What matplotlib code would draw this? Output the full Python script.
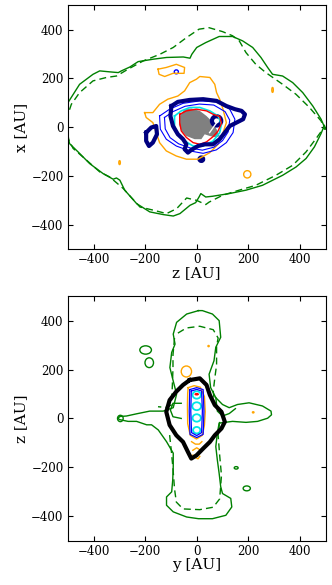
import matplotlib
matplotlib.use("Agg")
import matplotlib.pyplot as plt
from matplotlib.patches import Ellipse

plt.rcParams['font.family'] = ['DejaVu Serif']

# ---------------- top panel (z horizontal, x vertical) ----------------
top_green_solid_z = [-520, -499, -454, -402, -376, -337, -304, -292, -259, -227, -168, -117, -52, -26, -19, 0,
                     35, 87, 139, 178, 217, 249, 275, 294, 333, 372, 411, 450, 482, 499,
                     495, 482, 456, 424, 385, 333, 255, 191, 126, 61, 35, 16, 9, -4,
                     -26, -65, -91, -130, -182, -233, -279, -298, -311, -324, -363, -415, -460, -493, -499, -520]
top_green_solid_x = [101, 101, 176, 217, 231, 227, 224, 231, 247, 269, 279, 286, 288, 283, 299, 327,
                     347, 372, 372, 354, 327, 286, 245, 217, 210, 183, 142, 87, 33, -8,
                     8, -26, -81, -128, -163, -197, -238, -258, -272, -283, -286, -272, -286, -309,
                     -320, -354, -364, -358, -347, -313, -258, -217, -208, -213, -190, -149, -101, -67, -33, -33]

top_green_dash_z = [-520, -499, -486, -454, -402, -350, -311, -266, -207, -143, -91, -39, 9, 48, 100, 139, 165,
                    191, 229, 268, 333, 385, 437, 482, 495, 495, 463, 424, 372, 307, 229, 152, 100, 48, 35,
                    0, -39, -78, -117, -168, -220, -285, -337, -376, -427, -479, -499, -520]
top_green_dash_x = [40, 53, 94, 142, 190, 204, 210, 238, 272, 299, 327, 368, 402, 408, 392, 375, 354,
                    306, 258, 224, 176, 135, 81, 26, -8, 1, -46, -101, -156, -197, -238, -262, -279, -307, -317,
                    -300, -290, -334, -354, -340, -327, -251, -204, -183, -135, -87, -46, -40]

top_orange_z = [-202, -170, -144, -112, -73, -47, -27, -1, 12, 51, 70, 77, 89, 102, 115, 102, 83, 51, 5,
                -40, -79, -118, -144, -157, -170, -196, -202]
top_orange_x = [60, 60, 94, 115, 128, 149, 183, 197, 208, 204, 176, 142, 115, 74, 19, -22, -70, -104, -131,
                -131, -118, -97, -63, -22, 19, 40, 60]

top_orange2_z = [-150, -118, -79, -47, -49, -92, -124, -146, -150]
top_orange2_x = [238, 245, 258, 245, 221, 221, 208, 217, 238]

top_blue1_z = [-144, -105, -53, 12, 76, 128, 148, 141, 115, 76, 25, -27, -79, -118, -141, -144]
top_blue1_x = [46, 74, 98, 108, 104, 74, 33, -22, -63, -93, -107, -97, -77, -49, -8, 46]
top_blue2_z = [-125, -92, -45, 10, 66, 110, 128, 122, 100, 66, 22, -25, -70, -103, -122, -125]
top_blue2_x = [40, 64, 86, 95, 91, 64, 29, -19, -55, -82, -94, -85, -68, -43, -7, 40]

top_cyan_z = [-86, -60, -27, 12, 51, 83, 96, 89, 64, 25, -14, -47, -73, -86, -86]
top_cyan_x = [46, 67, 81, 81, 67, 46, 12, -22, -56, -77, -77, -56, -29, 5, 46]

top_red_z = [-66, -40, -1, 38, 64, 89, 96, 83, 64, 38, 12, -14, -40, -60, -66, -66]
top_red_x = [53, 67, 74, 67, 53, 44, 16, -15, -38, -60, -70, -63, -42, -15, 19, 53]

top_gray_z = [-66, -47, -21, 12, 38, 57, 77, 89, 77, 51, 31, 18, -8, -40, -59, -69]
top_gray_x = [46, 74, 77, 67, 46, 26, -8, -36, -42, -36, -29, -49, -49, -36, -15, 12]

top_white_z = [50, 68, 88]
top_white_x = [-22, 5, 35]

top_navy_z = [-98, -73, -27, 25, 77, 115, 148, 174, 187, 180, 154, 128, 109, 89, 63, 31, 5, -21, -34,
              -47, -40, -53, -73, -92, -102, -98]
top_navy_x = [87, 104, 112, 115, 108, 87, 74, 67, 53, 33, 19, 5, -22, -49, -70, -70, -77, -93, -104,
              -90, -70, -49, -29, 5, 46, 87]
top_navy_left_z = [-196, -176, -157, -154, -170, -185, -196, -196]
top_navy_left_x = [-22, -1, 5, -29, -63, -77, -56, -22]

# small closed loops: (center z, center x, width, height)
top_loops_color = ['blue', 'orange', 'orange', 'orange', 'navy', 'navy']
top_loops_cz = [-79, 294, -299, 196, 18, 77]
top_loops_cx = [227, 153, -145, -193, -131, 26]
top_loops_w = [16, 6, 6, 28, 14, 36]
top_loops_h = [16, 20, 16, 30, 14, 38]
top_loops_lw = [1.0, 1.0, 1.0, 1.0, 3.0, 3.0]

# ---------------- bottom panel (y horizontal, z vertical) ----------------
bot_green_solid_y = [7, -39, -78, -91, -84, -97, -104, -91, -78, -91, -130, -182, -233, -272, -298, -306,
                     -298, -266, -233, -194, -175, -149, -117, -91, -91, -93, -97, -117, -117, -91, -39, 7,
                     61, 113, 136, 132, 100, 93, 87, 80, 74, 80, 87, 139, 191, 236, 275, 290, 288, 255, 203,
                     158, 126, 100, 74, 54, 48, 67, 74, 93, 87, 61, 22, 7]
bot_green_solid_z = [441, 427, 393, 345, 304, 270, 208, 153, 99, 44, 30, 30, 19, 10, 8, 0,
                     -5, -12, -12, -26, -26, -47, -95, -142, -197, -252, -300, -321, -355, -382, -403, -410,
                     -410, -396, -362, -327, -307, -279, -225, -170, -115, -60, -19, -12, -16, -12, 1, 15, 30, 51, 64,
                     57, 44, 57, 85, 126, 181, 236, 291, 332, 400, 427, 441, 441]

bot_green_inner_y = [74, 80, 100, 126, 150]
bot_green_inner_z = [85, 30, 10, 20, 40]

bot_green_dash_y = [-73, -40, 12, 64, 83, 77, 77, 70, 64, 70, 89]
bot_green_dash_z = [349, 370, 377, 363, 329, 295, 219, 164, 110, 60, 30]
bot_green_dash2_y = [-86, -92, -92, -95, -98, -120, -150]
bot_green_dash2_z = [329, 260, 205, 120, 55, 45, 48]
bot_green_dash3_y = [-105, -98, -92, -86, -79, -53, 12, 64, 89, 96, 89, 83, 89]
bot_green_dash3_z = [-68, -137, -205, -288, -342, -370, -373, -363, -329, -233, -151, -68, -14]

bot_green_c_y = [-60, -92, -102, -92, -60]
bot_green_c_z = [62, 62, 34, 7, 0]

bot_black_y = [-27, 12, 38, 51, 70, 96, 109, 96, 70, 51, 25, -1, -21, -34, -53, -79, -105, -118, -105, -79, -53, -27]
bot_black_z = [157, 164, 137, 96, 55, 27, -14, -41, -69, -96, -123, -151, -164, -137, -96, -69, -27, 27, 75, 110, 137, 157]

bot_orange_y = [-33, -10, 14, 30, 33, 30, 22, -1, -25, -35, -36, -35, -33]
bot_orange_z = [126, 134, 128, 89, 27, -27, -69, -84, -69, -21, 55, 103, 126]
bot_orange_arc1_y = [-20, -5, 10, 20]
bot_orange_arc1_z = [-95, -105, -105, -95]
bot_orange_arc2_y = [-15, 0, 15]
bot_orange_arc2_z = [-130, -120, -130]
bot_orange_arc3_y = [-15, -5, 5, 12]
bot_orange_arc3_z = [-150, -160, -165, -155]

bot_blue1_y = [-27, 0, 25, 28, 25, 0, -26, -29, -27]
bot_blue1_z = [118, 126, 118, 30, -65, -78, -65, 30, 118]
bot_blue2_y = [-21, 0, 19, 22, 19, 0, -20, -23, -21]
bot_blue2_z = [112, 119, 112, 30, -58, -70, -58, 30, 112]

bot_cyan_cy = [96, 50, 2, -48]
bot_cyan_r = [16, 17, 16, 14]

# small loops (center y, center z, width, height, color)
bot_loops_color = ['green', 'green', 'green', 'green', 'green', 'orange', 'orange', 'orange', 'red']
bot_loops_cy = [-198, -184, -296, 153, 194, -40, 46, 219, 0]
bot_loops_cz = [280, 228, 0, -202, -286, 192, 296, 25, 99]
bot_loops_w = [45, 33, 22, 15, 28, 40, 5, 6, 12]
bot_loops_h = [34, 40, 26, 10, 20, 45, 5, 5, 5]

ticks = [-400, -200, 0, 200, 400]

fig = plt.figure(figsize=(3.32, 5.85), dpi=100)
ax1 = fig.add_axes([0.204, 0.574, 0.777, 0.417])
ax2 = fig.add_axes([0.204, 0.0757, 0.777, 0.418])

green = (0, 0.5, 0)
cyan = (0, 0.9, 0.9)

# top
ax1.fill(top_gray_z, top_gray_x, color='gray', lw=0, zorder=1)
ax1.plot(top_white_z, top_white_x, color='white', lw=1.0, zorder=1.5)
ax1.plot(top_green_solid_z, top_green_solid_x, color=green, lw=1.0)
ax1.plot(top_green_dash_z, top_green_dash_x, color=green, lw=1.0, ls=(0, (5, 3)))
ax1.plot(top_orange_z, top_orange_x, color='orange', lw=1.0)
ax1.plot(top_orange2_z, top_orange2_x, color='orange', lw=1.0)
ax1.plot(top_blue1_z, top_blue1_x, color='blue', lw=0.8)
ax1.plot(top_blue2_z, top_blue2_x, color='blue', lw=0.8)
ax1.plot(top_cyan_z, top_cyan_x, color=cyan, lw=1.2)
ax1.plot(top_red_z, top_red_x, color='red', lw=1.0)
ax1.plot(top_navy_z, top_navy_x, color='navy', lw=3.0)
ax1.plot(top_navy_left_z, top_navy_left_x, color='navy', lw=3.0)
for c, cz, cx, w, h, lw in zip(top_loops_color, top_loops_cz, top_loops_cx, top_loops_w, top_loops_h, top_loops_lw):
    ax1.add_patch(Ellipse((cz, cx), w, h, fill=False, edgecolor=c, lw=lw))

# bottom
ax2.plot(bot_green_solid_y, bot_green_solid_z, color=green, lw=1.0)
ax2.plot(bot_green_inner_y, bot_green_inner_z, color=green, lw=1.0)
ax2.plot(bot_green_dash_y, bot_green_dash_z, color=green, lw=1.0, ls=(0, (5, 3)))
ax2.plot(bot_green_dash2_y, bot_green_dash2_z, color=green, lw=1.0, ls=(0, (5, 3)))
ax2.plot(bot_green_dash3_y, bot_green_dash3_z, color=green, lw=1.0, ls=(0, (5, 3)))
ax2.plot(bot_green_c_y, bot_green_c_z, color=green, lw=1.0)
ax2.plot(bot_orange_y, bot_orange_z, color='orange', lw=1.0)
for ay, az in [(bot_orange_arc1_y, bot_orange_arc1_z), (bot_orange_arc2_y, bot_orange_arc2_z),
               (bot_orange_arc3_y, bot_orange_arc3_z)]:
    ax2.plot(ay, az, color='orange', lw=1.0)
ax2.plot(bot_blue1_y, bot_blue1_z, color='blue', lw=0.9)
ax2.plot(bot_blue2_y, bot_blue2_z, color='blue', lw=0.9)
for cy, r in zip(bot_cyan_cy, bot_cyan_r):
    ax2.add_patch(Ellipse((0, cy), 2 * r, 2 * r * 0.95, fill=False, edgecolor=cyan, lw=1.3))
for c, cy, cz, w, h in zip(bot_loops_color, bot_loops_cy, bot_loops_cz, bot_loops_w, bot_loops_h):
    col = green if c == 'green' else c
    fill = c in ('red',)
    ax2.add_patch(Ellipse((cy, cz), w, h, fill=fill, facecolor=col, edgecolor=col, lw=1.0))
ax2.plot(bot_black_y, bot_black_z, color='black', lw=3.0)

for ax, xl, yl in [(ax1, 'z [AU]', 'x [AU]'), (ax2, 'y [AU]', 'z [AU]')]:
    ax.set_xlim(-500, 500)
    ax.set_ylim(-500, 500)
    ax.set_xticks(ticks)
    ax.set_yticks(ticks)
    ax.tick_params(direction='in', top=True, right=True, labelsize=8.5, length=3.5, pad=3)
    ax.set_xlabel(xl, fontsize=11, labelpad=0)
    ax.set_ylabel(yl, fontsize=11, labelpad=2)

fig.savefig('out.png', dpi=100)
